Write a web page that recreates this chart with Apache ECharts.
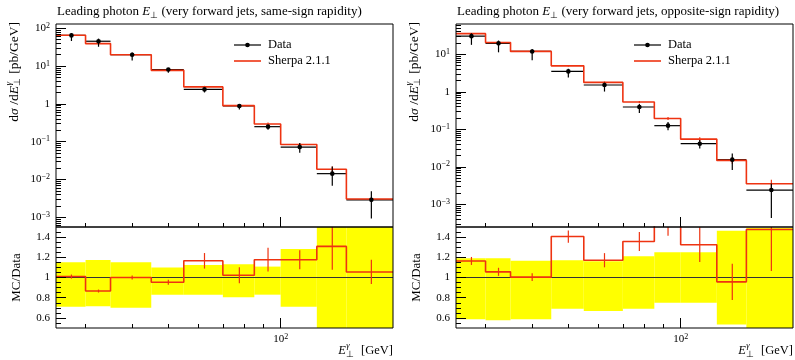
<!DOCTYPE html>
<html><head><meta charset="utf-8">
<script src="https://cdn.jsdelivr.net/npm/echarts@6/dist/echarts.min.js"></script>
<style>html,body{margin:0;padding:0;background:#fff}#c{width:795px;height:360px}</style>
</head><body><div id="c"></div>
<script>
// ---- data ----
const binEdges = [25, 30, 35, 45, 55, 70, 85, 100, 125, 150, 200];
// same-sign rapidity (left)
const sameSignData      = [65, 45.5, 20.0, 8.1, 2.42, 0.88, 0.25, 0.072, 0.0143, 0.0029];
const sameSignDataErrUp = [0.15, 0.174, 0.15, 0.10, 0.125, 0.13, 0.108, 0.283, 0.55, 0.70];
const sameSignDataErrDn = [0.29, 0.285, 0.30, 0.17, 0.17, 0.195, 0.17, 0.29, 0.52, 0.68];
const sameSignMC        = [65.6, 39.4, 20.0, 7.72, 2.82, 0.90, 0.294, 0.0847, 0.0187, 0.00306];
const sameSignMCErr     = [0.02, 0.017, 0.02, 0.026, 0.066, 0.078, 0.10, 0.08, 0.176, 0.114];
// opposite-sign rapidity (right)
const oppSignData       = [30.5, 19.6, 11.9, 3.5, 1.52, 0.393, 0.125, 0.0413, 0.0155, 0.0024];
const oppSignDataErrUp  = [0.19, 0.19, 0.167, 0.17, 0.16, 0.21, 0.25, 0.25, 0.463, 0.49];
const oppSignDataErrDn  = [0.414, 0.424, 0.414, 0.31, 0.332, 0.31, 0.25, 0.25, 0.466, 0.82];
const oppSignMC         = [35.5, 20.7, 11.94, 4.92, 1.78, 0.533, 0.194, 0.0547, 0.01483, 0.00354];
const oppSignMCErr      = [0.034, 0.038, 0.038, 0.043, 0.06, 0.069, 0.09, 0.13, 0.188, 0.278];
// ticks
const xMinorTicks = [30, 40, 50, 60, 70, 80, 90];
const xMajorTicks = [100];
const yMajorTicks = [1e-3, 1e-2, 1e-1, 1, 10, 100];
const yMinorMantissas = [2, 3, 4, 5, 6, 7, 8, 9];
const ratioMajorTicks = [0.6, 0.8, 1.0, 1.2, 1.4];
const ratioMinorTicks = [0.55, 0.65, 0.7, 0.75, 0.85, 0.9, 0.95, 1.05, 1.1, 1.15, 1.25, 1.3, 1.35, 1.45];
const titles = ['same-sign rapidity', 'opposite-sign rapidity'];

// ---- build ----
const F = 'Liberation Serif';
const RED = '#ee3311';
const L10 = Math.log10;
const XMIN = L10(25), XMAX = L10(200);
const centers = binEdges.slice(0, -1).map((e, i) => (e + binEdges[i + 1]) / 2);

const tickRich = {
  a: {fontFamily: F, fontSize: 11, color: '#000', lineHeight: 13},
  b: {fontFamily: F, fontSize: 8, color: '#000', lineHeight: 7, verticalAlign: 'top'}
};
function logLabel(v) {
  const e = Math.round(v);
  if (e === 0) return '{a|1}';
  return '{a|10}{b|' + (e < 0 ? '\u2212' + (-e) : e) + '}';
}

const grids = [], xAxes = [], yAxes = [], series = [];
function addGrid(left, top, height, border) {
  grids.push({left: left, top: top, width: 337, height: height, show: border, z: 10,
    borderColor: '#000', borderWidth: 1, backgroundColor: 'transparent'});
  return grids.length - 1;
}
function xAxis(g, ticks, len, withLabel) {
  xAxes.push({type: 'value', gridIndex: g, min: XMIN, max: XMAX, position: 'bottom', z: 10,
    splitLine: {show: false}, axisLine: {show: false, onZero: false},
    axisTick: {inside: true, length: len, lineStyle: {color: '#000', width: 1}, customValues: ticks.map(L10)},
    axisLabel: withLabel ? {customValues: ticks.map(L10), formatter: logLabel, rich: tickRich, margin: 5} : {show: false}});
  return xAxes.length - 1;
}
function yAxis(g, min, max, ticks, len, label) {
  yAxes.push({type: 'value', gridIndex: g, min: min, max: max, position: 'left', z: 10,
    splitLine: {show: false}, axisLine: {show: false, onZero: false},
    axisTick: {inside: true, length: len, lineStyle: {color: '#000', width: 1}, customValues: ticks},
    axisLabel: label ? Object.assign({customValues: ticks, margin: 6}, label) : {show: false}});
  return yAxes.length - 1;
}

function stepPoints(vals, tf) {
  const pts = [];
  vals.forEach((v, i) => { pts.push([L10(binEdges[i]), tf(v)]); pts.push([L10(binEdges[i + 1]), tf(v)]); });
  return pts;
}

function addPanel(left, data, up, dn, mc, mcErr, ymin, ymax) {
  // top (log) panel: main grid + overlay grid carrying minor ticks
  const gt = addGrid(left, 24, 203, true), gtm = addGrid(left, 24, 203, false);
  const majY = yMajorTicks.map(L10).filter(v => v >= ymin && v <= ymax);
  const minY = [];
  for (let e = -4; e <= 2; e++) yMinorMantissas.forEach(m => { const v = L10(m) + e; if (v > ymin && v < ymax) minY.push(v); });
  const xt = xAxis(gt, xMajorTicks, 10, false); xAxis(gtm, xMinorTicks, 4, false);
  const yt = yAxis(gt, ymin, ymax, majY, 10, {formatter: logLabel, rich: tickRich});
  yAxis(gtm, ymin, ymax, minY, 5, null);
  // ratio panel
  const gr = addGrid(left, 227, 101, true), grm = addGrid(left, 227, 101, false);
  const xr = xAxis(gr, xMajorTicks, 10, true); xAxis(grm, xMinorTicks, 4, false);
  const yr = yAxis(gr, 0.5, 1.5, ratioMajorTicks, 10, {fontFamily: F, fontSize: 11, color: '#000',
    formatter: v => Math.abs(v - 1) < 1e-9 ? '1' : v.toFixed(1)});
  yAxis(grm, 0.5, 1.5, ratioMinorTicks, 5, null);

  const base = {xAxisIndex: xt, yAxisIndex: yt, animation: false, silent: true};
  series.push(Object.assign({type: 'custom', z: 2, clip: true,
    data: data.map((v, i) => [L10(binEdges[i]), L10(binEdges[i + 1]), L10(v)]),
    encode: {x: [0, 1], y: 2},
    renderItem: (p, api) => {
      const a = api.coord([api.value(0), api.value(2)]), b = api.coord([api.value(1), api.value(2)]);
      return {type: 'line', shape: {x1: a[0], y1: a[1], x2: b[0], y2: b[1]}, style: {stroke: '#000', lineWidth: 1.2}};
    }}, base));
  series.push(Object.assign({type: 'line', z: 3, symbol: 'none', data: stepPoints(mc, L10),
    lineStyle: {color: RED, width: 1.6}}, base));
  series.push(Object.assign({type: 'custom', z: 4, clip: true,
    data: mc.map((v, i) => [L10(centers[i]), L10(v * (1 + mcErr[i])), L10(v * (1 - mcErr[i]))]),
    encode: {x: 0, y: [1, 2]},
    renderItem: (p, api) => {
      const a = api.coord([api.value(0), api.value(1)]), b = api.coord([api.value(0), api.value(2)]);
      return {type: 'line', shape: {x1: a[0], y1: a[1], x2: b[0], y2: b[1]}, style: {stroke: RED, lineWidth: 1.2}};
    }}, base));
  series.push(Object.assign({type: 'custom', z: 5, clip: true,
    data: data.map((v, i) => [L10(centers[i]), L10(v), L10(v * (1 + up[i])), L10(v * (1 - dn[i]))]),
    encode: {x: 0, y: [1, 2, 3]},
    renderItem: (p, api) => {
      const c = api.coord([api.value(0), api.value(1)]);
      const a = api.coord([api.value(0), api.value(2)]), b = api.coord([api.value(0), api.value(3)]);
      return {type: 'group', children: [
        {type: 'line', shape: {x1: a[0], y1: a[1], x2: b[0], y2: b[1]}, style: {stroke: '#000', lineWidth: 1.2}},
        {type: 'circle', shape: {cx: c[0], cy: c[1], r: 2.3}, style: {fill: '#000'}}
      ]};
    }}, base));
  const rb = {xAxisIndex: xr, yAxisIndex: yr, animation: false, silent: true};
  series.push(Object.assign({type: 'custom', z: 1, clip: true,
    data: data.map((v, i) => [L10(binEdges[i]), L10(binEdges[i + 1]), 1 + up[i], 1 - dn[i]]),
    encode: {x: [0, 1], y: [2, 3]},
    renderItem: (p, api) => {
      const a = api.coord([api.value(0), api.value(2)]), b = api.coord([api.value(1), api.value(3)]);
      return {type: 'rect', shape: {x: a[0], y: a[1], width: b[0] - a[0], height: b[1] - a[1]}, style: {fill: '#ffff00'}};
    }}, rb));
  series.push(Object.assign({type: 'line', z: 2, symbol: 'none', data: [[XMIN, 1], [XMAX, 1]],
    lineStyle: {color: '#333', width: 1.2}}, rb));
  const ratio = mc.map((v, i) => v / data[i]);
  series.push(Object.assign({type: 'line', z: 3, symbol: 'none', clip: true, data: stepPoints(ratio, v => v),
    lineStyle: {color: RED, width: 1.6}}, rb));
  series.push(Object.assign({type: 'custom', z: 4, clip: true,
    data: ratio.map((r, i) => [L10(centers[i]), r * (1 + mcErr[i]), r * (1 - mcErr[i])]),
    encode: {x: 0, y: [1, 2]},
    renderItem: (p, api) => {
      const a = api.coord([api.value(0), api.value(1)]), b = api.coord([api.value(0), api.value(2)]);
      return {type: 'line', shape: {x1: a[0], y1: a[1], x2: b[0], y2: b[1]}, style: {stroke: RED, lineWidth: 1.2}};
    }}, rb));
}

addPanel(56, sameSignData, sameSignDataErrUp, sameSignDataErrDn, sameSignMC, sameSignMCErr, -3.256, 2.114);
addPanel(456, oppSignData, oppSignDataErrUp, oppSignDataErrDn, oppSignMC, oppSignMCErr, -3.605, 1.808);

// math-like label built from measured pieces
const mctx = document.createElement('canvas').getContext('2d');
function tw(t, size, it) { mctx.font = (it ? 'italic ' : '') + size + 'px "' + F + '"'; return mctx.measureText(t).width; }
function mathLabel(parts, anchor, S) {
  const s = S * 0.68, kids = [];
  let x = 0;
  parts.forEach(p => {
    if (p.stack) {
      const w = Math.max(tw(p.stack[0], s, true), tw(p.stack[1], s, false));
      kids.push({type: 'text', x: x + 0.5, y: -5, style: {text: p.stack[0], fontFamily: F, fontSize: s, fontStyle: 'italic', fill: '#000', verticalAlign: 'middle'}});
      kids.push({type: 'text', x: x + 0.5, y: 4, style: {text: p.stack[1], fontFamily: F, fontSize: s, fill: '#000', verticalAlign: 'middle'}});
      x += w + 1;
    } else {
      kids.push({type: 'text', x: x, y: 0, style: {text: p.t, fontFamily: F, fontSize: S, fontStyle: p.it ? 'italic' : 'normal', fill: '#000', verticalAlign: 'middle'}});
      x += tw(p.t, S, p.it);
    }
  });
  const shift = anchor === 'right' ? -x : anchor === 'center' ? -x / 2 : 0;
  kids.forEach(k => { k.x += shift; k.silent = true; });
  return kids;
}

const txtRich = {
  n: {fontFamily: F, fontSize: 13, color: '#000', lineHeight: 16},
  i: {fontFamily: F, fontSize: 13, fontStyle: 'italic', color: '#000', lineHeight: 16},
  sub: {fontFamily: F, fontSize: 9, color: '#000', lineHeight: 6, verticalAlign: 'bottom'}
};
const graphics = [];
[56, 456].forEach((left, k) => {
  graphics.push({type: 'text', x: left + 1, y: 12, silent: true, style: {
    text: '{n|Leading photon }{i|E}{sub|\u22a5}{n| (very forward jets, ' + titles[k] + ')}',
    rich: txtRich, verticalAlign: 'middle', align: 'left'}});
  const lx = left + 178;
  graphics.push({type: 'line', silent: true, shape: {x1: lx, y1: 45, x2: lx + 27, y2: 45}, style: {stroke: '#000', lineWidth: 1.2}});
  graphics.push({type: 'circle', silent: true, shape: {cx: lx + 13.5, cy: 45, r: 2.3}, style: {fill: '#000'}});
  graphics.push({type: 'text', silent: true, x: lx + 34, y: 45, style: {text: 'Data', fontFamily: F, fontSize: 12.5, fill: '#000', verticalAlign: 'middle'}});
  graphics.push({type: 'line', silent: true, shape: {x1: lx, y1: 61, x2: lx + 27, y2: 61}, style: {stroke: RED, lineWidth: 1.6}});
  graphics.push({type: 'text', silent: true, x: lx + 34, y: 61, style: {text: 'Sherpa 2.1.1', fontFamily: F, fontSize: 12.5, fill: '#000', verticalAlign: 'middle'}});
  graphics.push({type: 'group', silent: true, x: left - 42, y: 22, rotation: Math.PI / 2,
    children: mathLabel([{t: 'd'}, {t: '\u03c3', it: true}, {t: ' /d'}, {t: 'E', it: true}, {stack: ['\u03b3', '\u22a5']}, {t: ' [pb/GeV]'}], 'right', 13.5)});
  graphics.push({type: 'text', silent: true, x: left - 39, y: 277.5, rotation: Math.PI / 2, style: {
    text: 'MC/Data', fontFamily: F, fontSize: 13, fill: '#000', align: 'center', verticalAlign: 'middle'}});
  graphics.push({type: 'group', silent: true, x: left + 337, y: 351,
    children: mathLabel([{t: 'E', it: true}, {stack: ['\u03b3', '\u22a5']}, {t: '  [GeV]'}], 'right', 12.5)});
});

const chart = echarts.init(document.getElementById('c'), null, {renderer: 'canvas'});
chart.setOption({animation: false, grid: grids, xAxis: xAxes, yAxis: yAxes, series: series, graphic: graphics});
</script></body></html>
